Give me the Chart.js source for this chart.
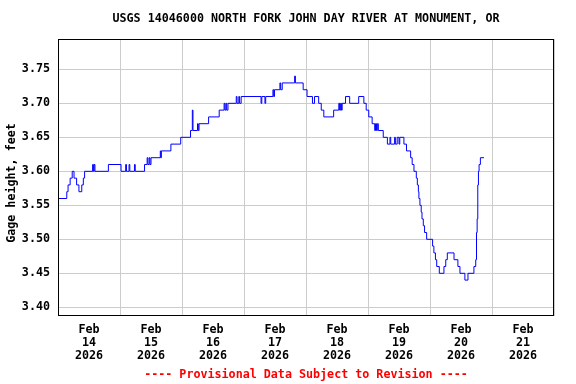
<!DOCTYPE html>
<html>
<head>
<meta charset="utf-8">
<script src="https://cdn.jsdelivr.net/npm/chart.js@4.4.1/dist/chart.umd.min.js"></script>
<style>
  html, body { margin: 0; padding: 0; background: #fff; }
  #chart { display: block; }
</style>
</head>
<body>
<canvas id="chart" width="576" height="384"></canvas>
<script>
// 観測点: 2/14 00:00 からの経過時間(h) と 水位(ft)
const hours = [
    0, 3.4, 3.9, 4.7, 5.5, 6.2, 7.2, 8.1, 9.2, 9.8, 10.3, 13.4, 13.7, 14.0, 14.3, 19.5,
    24.4, 26.2, 26.5, 27.5, 27.8, 29.6, 29.9, 33.5, 34.5, 34.8, 35.3, 35.6, 36.0, 39.6, 39.8, 40.0,
    43.7, 47.5, 51.3, 52.0, 52.25, 54.0, 54.3, 54.6, 58.3, 62.4, 64.3, 64.6, 65.0, 65.3, 65.8,
    69.0, 69.3, 70.0, 70.3, 70.9, 78.6, 78.9, 80.1, 80.4, 83.2, 83.5, 83.8, 85.9, 86.2, 86.8,
    91.6, 91.9, 94.9, 96.4, 98.5, 99.3, 100.9, 101.9, 102.9, 106.7, 108.7, 109.0, 109.4, 109.7,
    110.0, 111.3, 112.9, 116.4, 118.4, 119.3, 120.3, 121.6, 122.6, 122.9, 123.3, 123.6, 124.0,
    125.9, 127.5, 128.5, 128.8, 130.3, 130.6, 131.3, 132.0, 132.3, 133.9, 134.9, 136.5, 137.1,
    137.8, 138.7, 139.1, 139.5, 139.7, 140.1, 140.6, 140.9, 141.4, 141.9, 142.7, 145.0, 145.5,
    146.1, 146.6, 147.6, 149.4, 150.1, 150.7, 153.3, 154.8, 155.6, 157.5, 158.7, 161.0, 161.7,
    162.0, 162.25, 162.5, 162.75, 163.0, 163.5, 164.9
];
const gageFt = [
    3.56, 3.57, 3.58, 3.59, 3.60, 3.59, 3.58, 3.57, 3.58, 3.59, 3.60, 3.61, 3.60, 3.61, 3.60, 3.61,
    3.60, 3.61, 3.60, 3.61, 3.60, 3.61, 3.60, 3.61, 3.62, 3.61, 3.62, 3.61, 3.62, 3.63, 3.62, 3.63,
    3.64, 3.65, 3.66, 3.69, 3.66, 3.67, 3.66, 3.67, 3.68, 3.69, 3.70, 3.69, 3.70, 3.69, 3.70,
    3.71, 3.70, 3.71, 3.70, 3.71, 3.70, 3.71, 3.70, 3.71, 3.72, 3.71, 3.72, 3.73, 3.72, 3.73,
    3.74, 3.73, 3.72, 3.71, 3.70, 3.71, 3.70, 3.69, 3.68, 3.69, 3.70, 3.69, 3.70, 3.69,
    3.70, 3.71, 3.70, 3.71, 3.70, 3.69, 3.68, 3.67, 3.66, 3.67, 3.66, 3.67, 3.66,
    3.65, 3.64, 3.65, 3.64, 3.65, 3.64, 3.65, 3.64, 3.65, 3.64, 3.63, 3.62, 3.61,
    3.60, 3.59, 3.58, 3.57, 3.56, 3.55, 3.54, 3.53, 3.52, 3.51, 3.50, 3.49, 3.48,
    3.47, 3.46, 3.45, 3.46, 3.47, 3.48, 3.47, 3.46, 3.45, 3.44, 3.45, 3.46, 3.47,
    3.51, 3.53, 3.58, 3.60, 3.61, 3.62, 3.62
];

// 軸ラベル
const yTicks = [3.40, 3.45, 3.50, 3.55, 3.60, 3.65, 3.70, 3.75];
const monthLabel = 'Feb';
const dayNumbers = [14, 15, 16, 17, 18, 19, 20, 21];
const yearLabel = '2026';

const titleText = 'USGS 14046000 NORTH FORK JOHN DAY RIVER AT MONUMENT, OR';
const yTitle = 'Gage height, feet';
const footerText = '---- Provisional Data Subject to Revision ----';

const FONT = '"DejaVu Sans Mono", "Liberation Mono", monospace';

// タイトル・枠線などを描くプラグイン
const decorPlugin = {
    id: 'decor',
    afterDraw(chart) {
        const ctx = chart.ctx;
        const a = chart.chartArea;
        ctx.save();
        ctx.strokeStyle = '#000';
        ctx.lineWidth = 1;
        ctx.strokeRect(Math.round(a.left) + 0.5, Math.round(a.top) + 0.5,
            Math.round(a.right - a.left) - 1, Math.round(a.bottom - a.top) - 1);

        ctx.font = 'bold 11.7px ' + FONT;
        ctx.textAlign = 'center';
        ctx.textBaseline = 'middle';
        ctx.fillStyle = '#000';
        ctx.fillText(titleText, 306, 19);

        ctx.fillStyle = '#ff0000';
        ctx.fillText(footerText, 306, 375);

        ctx.fillStyle = '#000';
        ctx.translate(12, 183);
        ctx.rotate(-Math.PI / 2);
        ctx.fillText(yTitle, 0, 0);
        ctx.restore();
    }
};

function createChart() {
    const ctx = document.getElementById('chart').getContext('2d');
    const points = hours.map((h, i) => ({ x: h, y: gageFt[i] }));

    new Chart(ctx, {
        type: 'line',
        data: {
            datasets: [{
                data: points,
                borderColor: '#0000ff',
                borderWidth: 1,
                pointRadius: 0,
                stepped: true,
                fill: false
            }]
        },
        options: {
            responsive: false,
            animation: false,
            devicePixelRatio: 1,
            layout: { padding: { top: 39, right: 22, left: 0, bottom: 0 } },
            plugins: {
                legend: { display: false },
                title: { display: false },
                tooltip: { enabled: false }
            },
            scales: {
                x: {
                    type: 'linear',
                    min: 0,
                    max: 192,
                    afterFit(scale) { scale.height = 68; },
                    afterBuildTicks(scale) {
                        const t = [];
                        for (let v = 0; v <= 192; v += 12) t.push({ value: v });
                        scale.ticks = t;
                    },
                    border: { display: false },
                    grid: {
                        drawTicks: false,
                        lineWidth: 1,
                        color: c => (c.tick && c.tick.value % 24 === 0) ? '#cccccc' : 'rgba(0,0,0,0)'
                    },
                    ticks: {
                        autoSkip: false,
                        maxRotation: 0,
                        padding: 7,
                        color: '#000',
                        font: { family: FONT, size: 11.7, weight: 'bold', lineHeight: '13px' },
                        callback(value) {
                            if (value % 24 !== 12) return '';
                            return [monthLabel, String(dayNumbers[(value - 12) / 24]), yearLabel];
                        }
                    }
                },
                y: {
                    min: 3.3872,
                    max: 3.7946,
                    afterFit(scale) { scale.width = 58; },
                    afterBuildTicks(scale) {
                        scale.ticks = yTicks.map(v => ({ value: v }));
                    },
                    border: { display: false },
                    grid: { drawTicks: false, color: '#cccccc', lineWidth: 1 },
                    ticks: {
                        padding: 8,
                        color: '#000',
                        font: { family: FONT, size: 11.7, weight: 'bold' },
                        callback: v => Number(v).toFixed(2)
                    }
                }
            }
        },
        plugins: [decorPlugin]
    });
}

document.addEventListener('DOMContentLoaded', createChart);
</script>
</body>
</html>
